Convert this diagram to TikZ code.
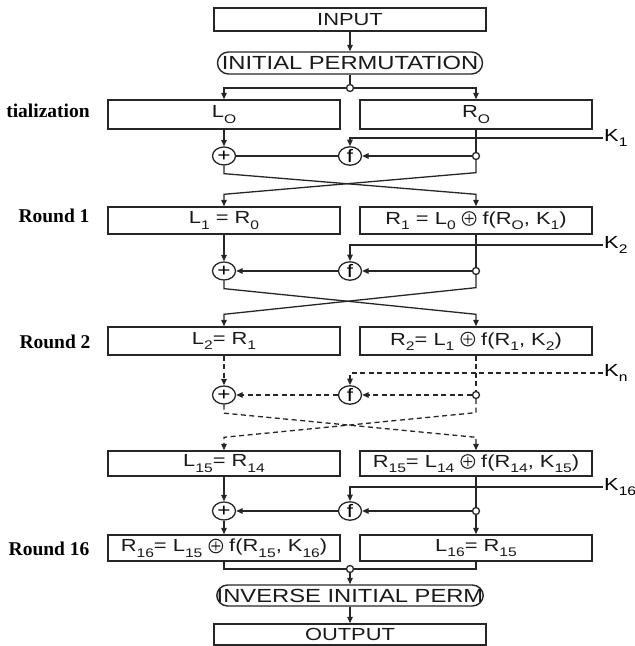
\documentclass[tikz,border=0pt]{standalone}
\usepackage{fontspec}
\usetikzlibrary{arrows.meta,calc,shapes.geometric}
\newfontfamily\boxfont[FakeStretch=1.25]{Liberation Sans}
\newfontfamily\labfont{Liberation Serif}
\newcommand\sbs[1]{\raisebox{-0.3em}{\fontsize{12.5}{12.5}\selectfont #1}}
\newcommand\xo{\tikz[baseline={(0pt,-6pt)}, x=1pt, y=1pt]{\draw[line width=1.1pt, black!85] (0,0) circle[radius=6.8pt] (-4.5,0) -- (4.5,0) (0,-4.5) -- (0,4.5);}}
\begin{document}
\begin{tikzpicture}[x=1pt,y=-1pt,
  ln/.style={line width=1.3pt, draw=black!85},
  arr/.style={ln, -{Triangle[length=6.5pt,width=5.5pt]}},
  dsh/.style={dash pattern=on 5pt off 3.5pt},
  blk/.style={ln, line width=1.4pt, rectangle, minimum width=232pt, inner sep=0pt, font=\boxfont\fontsize{17.5}{18}\selectfont, text=black!90},
  stad/.style={blk, rounded corners=11pt, minimum width=265pt, minimum height=22pt, font=\boxfont\fontsize{19}{20}\selectfont},
  opc/.style={ln, ellipse, minimum width=23pt, minimum height=18pt, inner sep=0pt, font=\boxfont\fontsize{18}{18}\selectfont},
  jn/.style={ln, circle, fill=white, minimum size=7pt, inner sep=0pt},
  klab/.style={anchor=west, inner sep=1pt, font=\boxfont\fontsize{17.5}{18}\selectfont},
  rlab/.style={font=\labfont\bfseries\fontsize{19.5}{20}\selectfont}
]
\useasboundingbox (0,0) rectangle (635,646);

% top
\node[blk, minimum width=272pt, minimum height=23pt] (inp) at (350,19.5) {INPUT};
\node[stad] (ip) at (350,63) {INITIAL PERMUTATION};
\node[jn] (j0) at (350,88) {};
\node[blk, minimum height=29pt] (L0) at (224,114.5) {L\sbs{O}};
\node[blk, minimum height=29pt] (R0) at (476,114.5) {R\sbs{O}};

% round 1
\node[opc] (x1) at (224,156) {+};
\node[opc] (f1) at (350,156) {f};
\node[jn] (j1) at (476,156) {};
\node[klab] (k1) at (603,138) {K\sbs{1}};
\node[blk, minimum height=27pt] (L1) at (224,220.5) {L\sbs{1} = R\sbs{0}};
\node[blk, minimum height=27pt] (R1) at (476,220.5) {R\sbs{1} = L\sbs{0} \xo{} f(R\sbs{O}, K\sbs{1})};

% round 2
\node[opc] (x2) at (224,271) {+};
\node[opc] (f2) at (350,271) {f};
\node[jn] (j2) at (476,271) {};
\node[klab] (k2) at (603,245) {K\sbs{2}};
\node[blk, minimum height=28pt] (L2) at (224,341) {L\sbs{2}= R\sbs{1}};
\node[blk, minimum height=28pt] (R2) at (476,341) {R\sbs{2}= L\sbs{1} \xo{} f(R\sbs{1}, K\sbs{2})};

% round n
\node[opc] (xn) at (224,395) {+};
\node[opc] (fn) at (350,395) {f};
\node[jn] (jn1) at (476,395) {};
\node[klab] (kn) at (603,373) {K\sbs{n}};
\node[blk, minimum height=25pt] (L15) at (224,463.5) {L\sbs{15}= R\sbs{14}};
\node[blk, minimum height=25pt] (R15) at (476,463.5) {R\sbs{15}= L\sbs{14} \xo{} f(R\sbs{14}, K\sbs{15})};

% round 16
\node[opc] (x16) at (224,511) {+};
\node[opc] (f16) at (350,511) {f};
\node[jn] (j16) at (476,511) {};
\node[klab] (k16) at (603,487) {K\sbs{16}};
\node[blk, minimum height=26pt] (R16) at (224,548) {R\sbs{16}= L\sbs{15} \xo{} f(R\sbs{15}, K\sbs{16})};
\node[blk, minimum height=26pt] (L16) at (476,548) {L\sbs{16}= R\sbs{15}};

% bottom
\node[jn] (jm) at (350,569) {};
\node[stad, minimum height=21pt] (iip) at (350,595.5) {INVERSE INITIAL PERM};
\node[blk, minimum width=272pt, minimum height=21pt] (out) at (350,634.5) {OUTPUT};

% labels
\node[rlab] (t0) at (48,111) {tialization};
\node[rlab] (t1) at (54,216) {Round 1};
\node[rlab] (t2) at (55,342) {Round 2};
\node[rlab, anchor=east] (t16) at (93,549) {Round 16};

% connectors top
\draw[arr] (inp) -- (ip);
\draw[ln] (ip) -- (j0);
\draw[arr] (j0) -| (L0.north);
\draw[arr] (j0) -| (R0.north);

% round 1
\draw[arr] (L0) -- (x1);
\draw[ln] (R0) -- (j1);
\draw[arr] (k1.west) -| (f1.north);
\draw[arr] (j1) -- (f1);
\draw[ln] (f1) -- (x1);
\draw[arr] (x1.south) -- ++(0,8) -- ($(R1.north)+(0,-12)$) -- (R1.north);
\draw[arr] (j1.south) -- ++(0,12.5) -- ($(L1.north)+(0,-12)$) -- (L1.north);

% round 2
\draw[arr] (L1) -- (x2);
\draw[ln] (R1) -- (j2);
\draw[arr] (k2.west) -| (f2.north);
\draw[arr] (j2) -- (f2);
\draw[arr] (f2) -- (x2);
\draw[arr] (x2.south) -- ++(0,8) -- ($(R2.north)+(0,-12)$) -- (R2.north);
\draw[arr] (j2.south) -- ++(0,12.5) -- ($(L2.north)+(0,-12)$) -- (L2.north);

% round n (dashed)
\draw[arr,dsh] (L2) -- (xn);
\draw[ln,dsh] (R2) -- (jn1);
\draw[arr,dsh] (kn.west) -| (fn.north);
\draw[arr,dsh] (jn1) -- (fn);
\draw[arr,dsh] (fn) -- (xn);
\draw[arr,dsh] (xn.south) -- ++(0,8.5) -- ($(R15.north)+(0,-13)$) -- (R15.north);
\draw[arr,dsh] (jn1.south) -- ++(0,13.5) -- ($(L15.north)+(0,-13)$) -- (L15.north);

% round 16
\draw[arr] (L15) -- (x16);
\draw[ln] (R15) -- (j16);
\draw[arr] (k16.west) -| (f16.north);
\draw[arr] (j16) -- (f16);
\draw[arr] (f16) -- (x16);
\draw[arr] (x16) -- (R16);
\draw[arr] (j16) -- (L16);

% merge
\draw[ln] (R16.south) |- (jm);
\draw[ln] (L16.south) |- (jm);
\draw[arr] (jm) -- (iip);
\draw[arr] (iip) -- (out);
\end{tikzpicture}
\end{document}
